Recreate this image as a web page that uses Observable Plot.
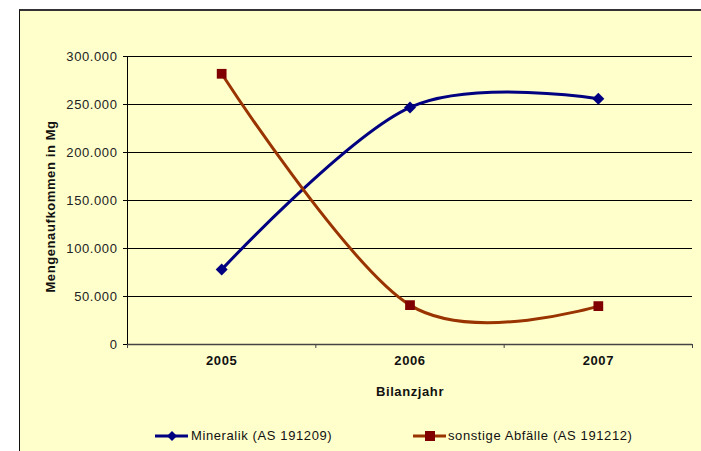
<!DOCTYPE html>
<html>
<head>
<meta charset="utf-8">
<script src="https://cdn.jsdelivr.net/npm/d3@7"></script>
<script src="https://cdn.jsdelivr.net/npm/@observablehq/plot@0.6"></script>
<style>
  html, body { margin: 0; padding: 0; background: #ffffff; width: 701px; height: 451px; overflow: hidden; }
  #frame { position: absolute; left: 19px; top: 9px; width: 682px; height: 442px;
           background: #FFFFCC; border-top: 2px solid #333; border-left: 1px solid #111; box-sizing: border-box; }
  #chart { position: absolute; left: 0; top: 0; }
  #chart svg text { letter-spacing: 0.6px; }
  .leg { position: absolute; font-family: "Liberation Sans", Arial, sans-serif; font-size: 13px;
         letter-spacing: 0.6px; color: #111; line-height: 16px; white-space: nowrap; }
  .sw { position: absolute; }
</style>
</head>
<body>
<div id="frame"><div id="chart"></div></div>
<svg class="sw" style="left:155px; top:428px" width="34" height="16">
  <line x1="0" x2="33" y1="8" y2="8" stroke="#000080" stroke-width="3"/>
  <path d="M17,3 L22,8 L17,13 L12,8 Z" fill="#000080"/>
</svg>
<div class="leg" style="left:191px; top:428px">Mineralik (AS 191209)</div>
<svg class="sw" style="left:413px; top:428px" width="34" height="16">
  <line x1="0" x2="33" y1="8" y2="8" stroke="#993300" stroke-width="3"/>
  <rect x="12" y="3" width="10" height="10" fill="#800000"/>
</svg>
<div class="leg" style="left:448px; top:428px">sonstige Abfälle (AS 191212)</div>
<script>
const years = [2005, 2006, 2007];
const mineralik = [78000, 247000, 256000];
const sonstige = [282000, 41000, 40000];
const seriesNames = ["Mineralik (AS 191209)", "sonstige Abfälle (AS 191212)"];
const yTicks = [0, 50000, 100000, 150000, 200000, 250000, 300000];
const xBounds = [2004.5, 2005.5, 2006.5, 2007.5];
const xLabel = "Bilanzjahr";
const yLabel = "Mengenaufkommen in Mg";

const dataM = years.map((year, i) => ({year, value: mineralik[i], series: seriesNames[0]}));
const dataS = years.map((year, i) => ({year, value: sonstige[i], series: seriesNames[1]}));
const fmt = d => d3.format(",")(d).replace(/,/g, ".");

// square-proportioned diamond marker (like Excel's)
const diamondSymbol = {
  draw(ctx, size) {
    const h = Math.sqrt(size / Math.PI);
    ctx.moveTo(0, -h); ctx.lineTo(h, 0); ctx.lineTo(0, h); ctx.lineTo(-h, 0); ctx.closePath();
  }
};

const chart = Plot.plot({
  width: 681,
  height: 440,
  marginLeft: 107,
  marginTop: 45,
  marginRight: 9,
  marginBottom: 107,
  style: { background: "transparent", fontFamily: "Liberation Sans, Arial, sans-serif", fontSize: "13px", color: "#222" },
  x: { type: "linear", domain: [xBounds[0], xBounds[xBounds.length - 1]] },
  y: { domain: [0, 300000] },
  marks: [
    Plot.ruleY(yTicks.filter(d => d > 0), { x1: xBounds[0], x2: xBounds[xBounds.length - 1], stroke: "#000", strokeWidth: 1 }),
    Plot.ruleY([0], { x1: xBounds[0], x2: xBounds[xBounds.length - 1], stroke: "#444", strokeWidth: 1.5 }),
    Plot.ruleX([xBounds[0]], { stroke: "#000", strokeWidth: 1 }),
    Plot.axisY({ ticks: yTicks, tickSize: 4, tickPadding: 6, tickFormat: fmt, label: null, stroke: "#000" }),
    Plot.axisX({ ticks: xBounds, tickSize: 4, tickFormat: () => "", label: null, stroke: "#444" }),
    Plot.text(years, { x: d => d, frameAnchor: "bottom", dy: 20, text: d => String(d), fontWeight: "bold", fill: "#111" }),
    Plot.line(dataM, { x: "year", y: "value", stroke: "#000080", strokeWidth: 3, curve: "cardinal", tension: 0 }),
    Plot.line(dataS, { x: "year", y: "value", stroke: "#993300", strokeWidth: 3, curve: "cardinal", tension: 0 }),
    Plot.dot(dataM, { x: "year", y: "value", symbol: diamondSymbol, fill: "#000080", r: 6 }),
    Plot.dot(dataS, { x: "year", y: "value", symbol: "square", fill: "#800000", r: 5.5 }),
    Plot.text([xLabel], { frameAnchor: "bottom", dy: 51, fontWeight: "bold", fill: "#111" }),
    Plot.text([yLabel], { frameAnchor: "left", textAnchor: "middle", rotate: -90, dx: -77, dy: 6, fontWeight: "bold", fill: "#111" })
  ]
});
document.getElementById("chart").appendChild(chart);
</script>
</body>
</html>
